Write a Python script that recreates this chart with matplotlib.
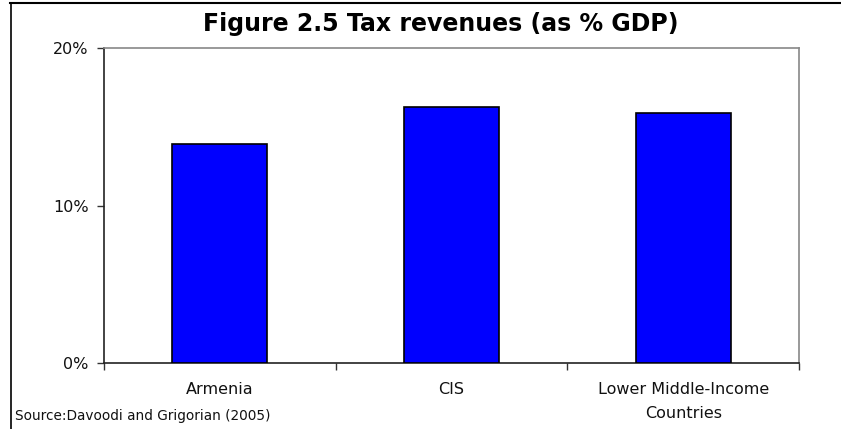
import matplotlib
matplotlib.use("Agg")
import matplotlib.pyplot as plt
from matplotlib.lines import Line2D
from matplotlib.ticker import FuncFormatter, MultipleLocator

categories = ["Armenia", "CIS", "Lower Middle-Income\nCountries"]
tax_revenue_pct = [13.9, 16.25, 15.9]
title = "Figure 2.5 Tax revenues (as % GDP)"
source = "Source:Davoodi and Grigorian (2005)"

W, H = 841, 429
fig = plt.figure(figsize=(W / 100, H / 100), dpi=100)
ax = fig.add_axes([104 / W, 1 - 363 / H, (799 - 104) / W, (363 - 48) / H])

x = range(len(categories))
ax.bar(x, tax_revenue_pct, width=0.41, color="#0000FF", edgecolor="black", linewidth=1.2, zorder=3)

ax.set_xlim(-0.5, len(categories) - 0.5)
ax.set_ylim(0, 20)
ax.yaxis.set_major_locator(MultipleLocator(10))
ax.yaxis.set_major_formatter(FuncFormatter(lambda v, p: f"{v:.0f}%"))

# category separators as major ticks, names as minor ticks at bar centres
ax.set_xticks([i + 0.5 for i in range(len(categories) - 1)] + [-0.5, len(categories) - 0.5])
ax.set_xticklabels([])
ax.set_xticks(list(x), minor=True)
ax.set_xticklabels(categories, minor=True, linespacing=1.7, va="top")
ax.tick_params(axis="x", which="minor", length=0, pad=14)
ax.tick_params(axis="x", which="major", length=5, width=1, color="#333333", direction="out")
ax.tick_params(axis="y", length=5, width=1, color="#333333", direction="out", pad=6)

for lbl in ax.get_xticklabels(minor=True) + ax.get_yticklabels():
    lbl.set_fontfamily("DejaVu Sans")
    lbl.set_fontsize(11.5)
    lbl.set_color("#111111")

for s in ("left", "bottom"):
    ax.spines[s].set_color("#222222")
    ax.spines[s].set_linewidth(1.2)
for s in ("top", "right"):
    ax.spines[s].set_color("#888888")
    ax.spines[s].set_linewidth(1.2)

fig.text(440.5 / W, 1 - 31 / H, title, ha="center", va="baseline",
         fontfamily="DejaVu Sans", fontweight="bold", fontsize=17)
fig.text(15 / W, 1 - 420 / H, source, ha="left", va="baseline",
         fontfamily="DejaVu Sans", fontsize=9.8, color="#111111")

# frame lines along the top and left edges
fig.add_artist(Line2D([10 / W, 1], [1 - 2.5 / H, 1 - 2.5 / H], transform=fig.transFigure,
                      color="black", linewidth=1.5))
fig.add_artist(Line2D([10.5 / W, 10.5 / W], [0, 1 - 2.5 / H], transform=fig.transFigure,
                      color="black", linewidth=1.2))

fig.savefig("out.png", dpi=100)
